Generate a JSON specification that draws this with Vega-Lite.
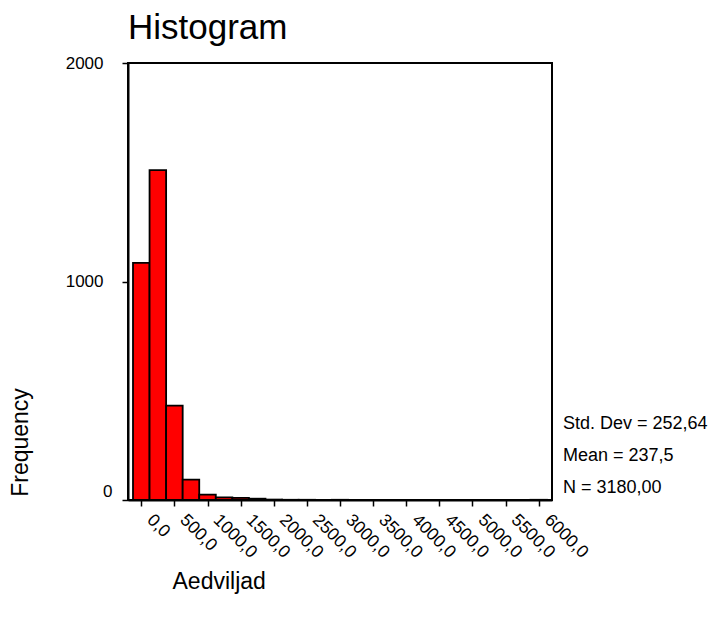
{
  "$schema": "https://vega.github.io/schema/vega-lite/v6.json",
  "width": 424,
  "height": 437,
  "autosize": "none",
  "padding": {"left": 128, "top": 63, "right": 164, "bottom": 123},
  "background": "white",
  "config": {
    "font": "Liberation Sans",
    "view": {"stroke": "black", "strokeWidth": 2},
    "axis": {"grid": false, "domainColor": "black", "domainWidth": 2, "tickColor": "black", "tickWidth": 1.5, "tickSize": 6, "labelColor": "black", "titleColor": "black", "labelFont": "Liberation Sans", "titleFont": "Liberation Sans", "titleFontWeight": "normal", "labelOverlap": false, "labelFlush": false}
  },
  "title": {"text": "Histogram", "anchor": "start", "frame": "group", "fontSize": 35, "fontWeight": "normal", "font": "Liberation Sans", "color": "black", "offset": 8},
  "layer": [
    {
      "data": {"values": [
        {"bin_start": -125, "bin_end": 125, "count": 1085},
        {"bin_start": 125, "bin_end": 375, "count": 1510},
        {"bin_start": 375, "bin_end": 625, "count": 432},
        {"bin_start": 625, "bin_end": 875, "count": 93},
        {"bin_start": 875, "bin_end": 1125, "count": 25},
        {"bin_start": 1125, "bin_end": 1375, "count": 12},
        {"bin_start": 1375, "bin_end": 1625, "count": 10},
        {"bin_start": 1625, "bin_end": 1875, "count": 6},
        {"bin_start": 1875, "bin_end": 2125, "count": 2},
        {"bin_start": 2125, "bin_end": 2375, "count": 1},
        {"bin_start": 2375, "bin_end": 2625, "count": 1},
        {"bin_start": 2875, "bin_end": 3125, "count": 1},
        {"bin_start": 5875, "bin_end": 6125, "count": 1}
      ]},
      "mark": {"type": "bar", "orient": "vertical", "color": "#ff0000", "stroke": "black", "strokeWidth": 1.8},
      "encoding": {
        "x": {"field": "bin_start", "type": "quantitative",
          "scale": {"domain": [-125, 6125], "nice": false, "zero": false},
          "axis": {"values": [0,500,1000,1500,2000,2500,3000,3500,4000,4500,5000,5500,6000], "tickCount": 20,
            "labelExpr": "replace(format(datum.value, '.1f'), '.', ',')",
            "labelOverlap": false, "labelBound": false, "labelFlush": false,
            "labelAngle": 45, "labelAlign": "left", "labelBaseline": "middle", "labelFontSize": 17.5, "labelPadding": 11, "labelOffset": 8,
            "title": "Aedviljad", "titleFontSize": 23, "titleX": 44, "titleY": 70, "titleAlign": "left"}},
        "x2": {"field": "bin_end"},
        "y": {"field": "count", "type": "quantitative",
          "scale": {"domain": [0, 2000], "nice": false},
          "axis": {"values": [0, 1000, 2000], "format": "d", "labelFontSize": 17,
            "labelPadding": {"condition": {"test": "datum.value === 0", "value": 10}, "value": 19},
            "labelOffset": {"condition": {"test": "datum.value === 0", "value": -9}, "value": 0},
            "title": "Frequency", "titleFontSize": 23, "titleAngle": -90, "titleX": -108, "titleY": 379, "titleAlign": "center", "titleBaseline": "middle"}}
      }
    },
    {
      "data": {"values": [{"lines": ["Std. Dev = 252,64", "Mean = 237,5", "N = 3180,00"]}]},
      "mark": {"type": "text", "align": "left", "baseline": "top", "dx": 16, "fontSize": 18, "lineHeight": 32, "font": "Liberation Sans", "color": "black", "clip": false},
      "encoding": {
        "x": {"datum": 6125, "type": "quantitative"},
        "y": {"datum": 390, "type": "quantitative"},
        "text": {"field": "lines"}
      }
    }
  ]
}
